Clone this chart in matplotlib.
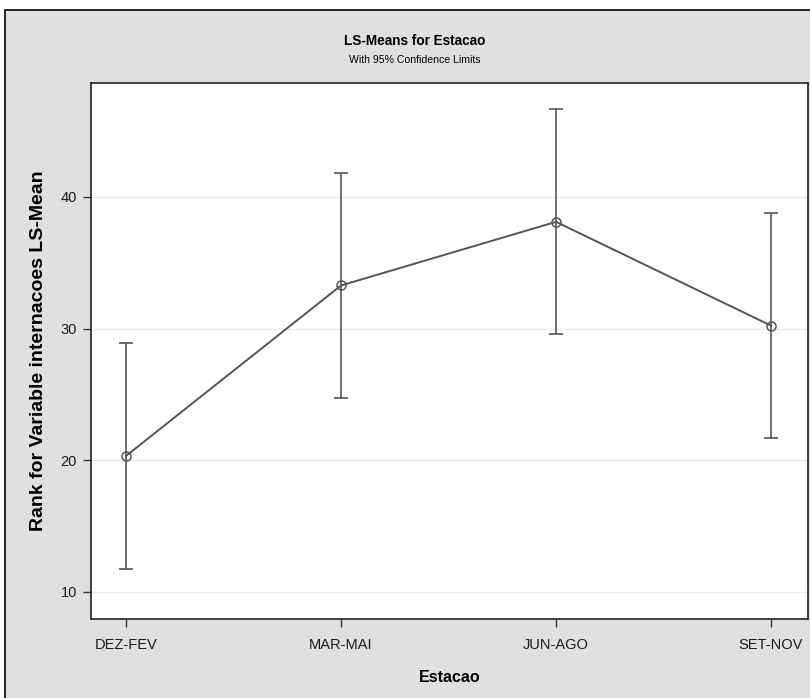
import matplotlib
matplotlib.use("Agg")
import matplotlib.pyplot as plt
from matplotlib.patches import Rectangle

seasons = ["DEZ-FEV", "MAR-MAI", "JUN-AGO", "SET-NOV"]
lsmeans = [20.33, 33.27, 38.10, 30.22]
lower = [11.76, 24.72, 29.55, 21.69]
upper = [28.91, 41.82, 46.65, 38.74]
yticks = [10, 20, 30, 40]

plt.rcParams['font.family'] = ['Liberation Sans', 'DejaVu Sans']

W, H = 810, 698
fig = plt.figure(figsize=(W / 100, H / 100), dpi=100, facecolor="white")

# gray SAS style panel with black border (runs off the right/bottom edge)
fig.patches.append(Rectangle((5 / W, -0.05), 1.2, 1.05 - 10 / H,
                             transform=fig.transFigure, facecolor="#e0e0e0",
                             edgecolor="black", linewidth=1.2, zorder=-10))

ax = fig.add_axes([91 / W, 1 - 619 / H, (808 - 91) / W, (619 - 83) / H])
ax.set_facecolor("white")

x = list(range(len(seasons)))
yerr = [[m - l for m, l in zip(lsmeans, lower)], [u - m for m, u in zip(lsmeans, upper)]]
col = "#555555"
ax.errorbar(x, lsmeans, yerr=yerr, fmt="none", ecolor=col, elinewidth=1.2,
            capsize=4.7, capthick=1.2, zorder=3)
ax.plot(x, lsmeans, color=col, linewidth=1.4, marker="o", markersize=6.5,
        markerfacecolor="none", markeredgecolor=col, markeredgewidth=1.1, zorder=4)

ax.set_xlim(-0.163, 3.172)
ax.set_ylim(7.95, 48.64)
ax.set_xticks(x)
ax.set_xticklabels(seasons)
ax.set_yticks(yticks)
ax.grid(axis="y", color="#ebebeb", linewidth=1.0, zorder=0)
ax.set_axisbelow(True)

for s in ax.spines.values():
    s.set_color("#222222")
    s.set_linewidth(1.2)
ax.tick_params(axis="both", direction="out", length=6, width=1.0, color="#333333",
               labelsize=10.5, labelcolor="#1a1a1a")
ax.tick_params(axis="x", pad=8)
ax.tick_params(axis="y", pad=4)

ax.set_xlabel("Estacao", fontsize=11.5, fontweight="bold", labelpad=13)
ax.set_ylabel("Rank for Variable internacoes LS-Mean", fontsize=14, fontweight="bold")
ax.yaxis.set_label_coords(-(91 - 47) / (808 - 91), 0.5)

fig.text(415 / W, 1 - 41 / H, "LS-Means for Estacao", ha="center", va="center",
         fontsize=9.8, fontweight="bold")
fig.text(415 / W, 1 - 60 / H, "With 95% Confidence Limits", ha="center", va="center",
         fontsize=7.6)

fig.savefig("out.png", dpi=100, facecolor=fig.get_facecolor())
